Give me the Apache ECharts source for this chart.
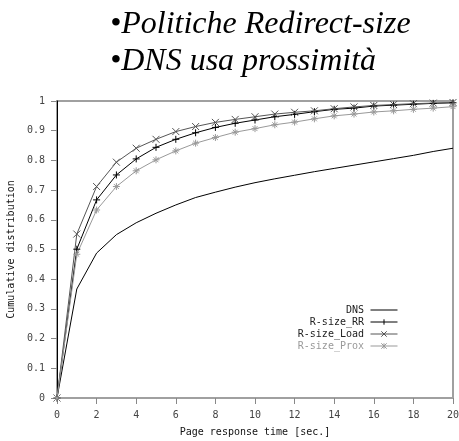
<!DOCTYPE html>
<html><head><meta charset="utf-8">
<script src="https://cdn.jsdelivr.net/npm/echarts@6/dist/echarts.min.js"></script>
<style>html,body{margin:0;padding:0;background:#fff}#c{width:459px;height:441px}</style>
</head><body><div id="c"></div>
<script>
const xValues = [0,1,2,3,4,5,6,7,8,9,10,11,12,13,14,15,16,17,18,19,20];
const dns   = [0,0.367,0.488,0.550,0.590,0.622,0.650,0.675,0.693,0.710,0.725,0.738,0.750,0.762,0.773,0.784,0.795,0.806,0.817,0.830,0.841];
const rr    = [0,0.501,0.667,0.751,0.805,0.844,0.871,0.893,0.911,0.925,0.936,0.947,0.955,0.964,0.972,0.976,0.983,0.986,0.989,0.992,0.994];
const load  = [0,0.552,0.712,0.794,0.841,0.871,0.897,0.914,0.928,0.938,0.947,0.956,0.962,0.967,0.974,0.980,0.985,0.988,0.991,0.993,0.995];
const prox  = [0,0.484,0.633,0.712,0.765,0.802,0.832,0.858,0.877,0.895,0.907,0.920,0.929,0.940,0.950,0.956,0.963,0.967,0.972,0.976,0.981];
const seriesNames = ['DNS','R-size_RR','R-size_Load','R-size_Prox'];
const titleLines = ['•Politiche Redirect-size','•DNS usa prossimità'];

const PLUS = 'path://M0,5L10,5M5,0L5,10';
const CROSS = 'path://M0,0L10,10M10,0L0,10';
const STAR = 'path://M0,5L10,5M5,0L5,10M1.5,1.5L8.5,8.5M8.5,1.5L1.5,8.5';
const BOX = 'M0,0L0,0M30,10L30,10';
const ICON_LINE = 'path://' + BOX + 'M0,5L30,5';
const ICON_PLUS = 'path://' + BOX + 'M0,5L30,5M15,2L15,8';
const ICON_CROSS = 'path://' + BOX + 'M0,5L30,5M12,2L18,8M18,2L12,8';
const ICON_STAR = 'path://' + BOX + 'M0,5L30,5M15,2L15,8M12,2L18,8M18,2L12,8';
const mono = 'DejaVu Sans Mono';

function mk(name, data, color, symbol) {
  return {
    name, type: 'line', data: xValues.map((x,i)=>[x,data[i]]),
    symbol: symbol || 'none', symbolSize: 7, showSymbol: !!symbol,
    lineStyle: {color, width: 1},
    itemStyle: {color: 'rgba(0,0,0,0)', borderColor: color, borderWidth: 1},
    animation: false, z: 3
  };
}
const chart = echarts.init(document.getElementById('c'));
chart.setOption({
  backgroundColor: '#fff',
  animation: false,
  title: {
    text: titleLines.join('\n'), left: 105, top: 1,
    textStyle: {fontFamily: 'Liberation Serif', fontStyle: 'italic', fontWeight: 'normal', fontSize: 32, lineHeight: 37, color: '#000'}
  },
  grid: {left: 57, right: 6, top: 101, bottom: 43, containLabel: false, outerBoundsMode: 'none',
         show: true, borderColor: '#a0a0a0', borderWidth: 2},
  xAxis: {
    type: 'value', min: 0, max: 20, interval: 2,
    name: 'Page response time [sec.]', nameLocation: 'middle', nameGap: 29,
    nameTextStyle: {fontFamily: mono, fontSize: 10, color: '#111'},
    axisLine: {show: true, lineStyle: {color: '#a0a0a0', width: 2}},
    axisTick: {show: true, length: 6, lineStyle: {color: '#888'}},
    axisLabel: {fontFamily: mono, fontSize: 10, color: '#444', margin: 12},
    splitLine: {show: false}
  },
  yAxis: {
    type: 'value', min: 0, max: 1, interval: 0.1,
    name: 'Cumulative distribution', nameLocation: 'middle', nameGap: 37,
    nameTextStyle: {fontFamily: mono, fontSize: 10, color: '#111'},
    axisLine: {show: true, lineStyle: {color: '#000', width: 1}},
    axisTick: {show: true, length: 6, lineStyle: {color: '#888'}},
    axisLabel: {fontFamily: mono, fontSize: 10, color: '#444', margin: 12},
    splitLine: {show: false}
  },
  legend: {
    orient: 'vertical', right: 56, top: 300, align: 'right',
    itemWidth: 30, itemHeight: 9, itemGap: 2,
    textStyle: {fontFamily: mono, fontSize: 10, color: '#222'},
    data: [
      {name: seriesNames[0], icon: ICON_LINE, itemStyle: {color: 'rgba(0,0,0,0)', borderColor: '#000', borderWidth: 1}},
      {name: seriesNames[1], icon: ICON_PLUS, itemStyle: {color: 'rgba(0,0,0,0)', borderColor: '#000', borderWidth: 1}},
      {name: seriesNames[2], icon: ICON_CROSS, itemStyle: {color: 'rgba(0,0,0,0)', borderColor: '#555', borderWidth: 1}},
      {name: seriesNames[3], icon: ICON_STAR, itemStyle: {color: 'rgba(0,0,0,0)', borderColor: '#999', borderWidth: 1}, textStyle: {color: '#999'}}
    ]
  },
  series: [
    mk(seriesNames[0], dns, '#000', null),
    mk(seriesNames[1], rr, '#000', PLUS),
    mk(seriesNames[2], load, '#555', CROSS),
    mk(seriesNames[3], prox, '#999', STAR)
  ]
});
</script></body></html>
